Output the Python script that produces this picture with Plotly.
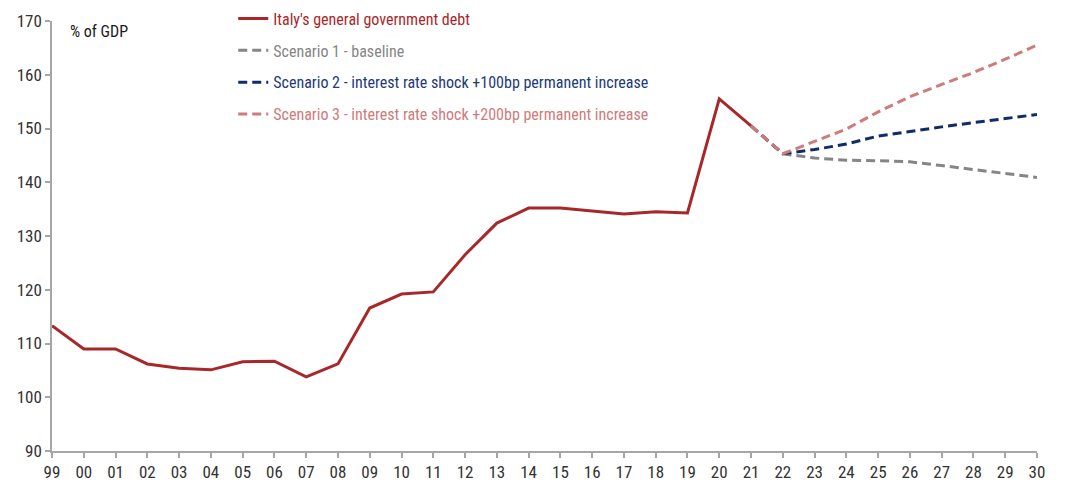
import plotly.graph_objects as go

years = list(range(1999, 2031))
tick_labels = ["99", "00", "01", "02", "03", "04", "05", "06", "07", "08", "09",
               "10", "11", "12", "13", "14", "15", "16", "17", "18", "19", "20",
               "21", "22", "23", "24", "25", "26", "27", "28", "29", "30"]

hist_years = list(range(1999, 2022))
hist_debt = [113.3, 109.0, 109.0, 106.2, 105.4, 105.1, 106.6, 106.7, 103.8, 106.2,
             116.6, 119.2, 119.6, 126.5, 132.4, 135.2, 135.2, 134.7, 134.1, 134.5,
             134.3, 155.5, 150.5]

proj_years = list(range(2021, 2031))
scen1 = [150.5, 145.3, 144.5, 144.1, 144.0, 143.8, 143.1, 142.4, 141.7, 140.9]
scen2 = [150.5, 145.3, 146.1, 147.1, 148.6, 149.5, 150.3, 151.1, 151.8, 152.6]
scen3 = [150.5, 145.3, 147.6, 149.9, 153.1, 155.9, 158.2, 160.4, 162.9, 165.5]

names = ["Italy's general government debt",
         "Scenario 1 - baseline",
         "Scenario 2 - interest rate shock +100bp permanent increase",
         "Scenario 3 - interest rate shock +200bp permanent increase"]
line_colors = ["#a8282a", "#858585", "#102c68", "#cf7b7b"]
text_colors = ["#a8282a", "#858585", "#223a7a", "#cf7b7b"]

FONT = "Roboto Condensed, Liberation Sans Narrow, sans-serif"

fig = go.Figure()
series = [(hist_years, hist_debt, "solid"),
          (proj_years, scen1, "9px,5px"),
          (proj_years, scen2, "9px,5px"),
          (proj_years, scen3, "9px,5px")]
for i, (xs, ys, dash) in enumerate(series):
    fig.add_trace(go.Scatter(
        x=xs, y=ys, mode="lines",
        name=f"<span style='color:{text_colors[i]}'>{names[i]}</span>",
        line=dict(color=line_colors[i], width=3, dash=dash),
        legendgroup=f"g{i}", hoverinfo="skip"))

fig.update_layout(
    width=1067, height=484,
    margin=dict(l=52, r=30, t=21, b=33, autoexpand=False),
    paper_bgcolor="white", plot_bgcolor="white",
    font=dict(family=FONT, size=16, color="#333333"),
    showlegend=True,
    legend=dict(x=0.184, y=1.045, xanchor="left", yanchor="top",
                bgcolor="rgba(0,0,0,0)", traceorder="grouped",
                tracegroupgap=8, font=dict(size=16, family=FONT)),
    xaxis=dict(range=[1999, 2030], tickvals=years, ticktext=tick_labels,
               showgrid=False, zeroline=False, showline=True,
               linecolor="#a6a6a6", linewidth=1.5, ticks="outside",
               ticklen=5, tickcolor="#a6a6a6", tickwidth=1.5,
               tickfont=dict(size=17, color="#333333", family=FONT)),
    xaxis2=dict(range=[1999, 2030], tickvals=years, overlaying="x",
                anchor="y", matches="x", showgrid=False, zeroline=False,
                showline=False, ticks="inside", ticklen=5,
                tickcolor="#a6a6a6", tickwidth=1.5, showticklabels=False,
                side="bottom"),
    yaxis=dict(range=[90, 170], tickvals=[90, 100, 110, 120, 130, 140, 150, 160, 170],
               showgrid=False, zeroline=False, showline=True,
               linecolor="#a6a6a6", linewidth=1.5, ticks="outside",
               ticklen=5, tickcolor="#a6a6a6", tickwidth=1.5,
               tickfont=dict(size=17, color="#333333", family=FONT)),
    annotations=[dict(text="% of GDP", xref="paper", yref="paper",
                      x=0.016, y=0.975, xanchor="left", yanchor="middle",
                      showarrow=False, font=dict(size=16, color="#1a1a1a", family=FONT))],
)

fig.write_html("out.html")
